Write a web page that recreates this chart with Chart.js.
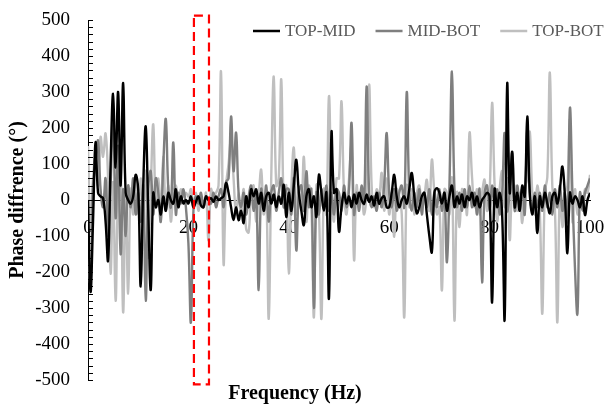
<!DOCTYPE html>
<html>
<head>
<meta charset="utf-8">
<script src="https://cdn.jsdelivr.net/npm/chart.js@4.4.1/dist/chart.umd.min.js"></script>
<style>
  html, body { margin: 0; padding: 0; background: #fff; }
  canvas { display: block; }
</style>
</head>
<body>
<canvas id="phaseChart" width="608" height="408"></canvas>
<script>
// sampling grid of the spectrum (Hz), 0 to 100 in 0.5 Hz steps
const FREQ_STEP = 0.5;
const freqHz = Array.from({ length: 201 }, (_, i) => i * FREQ_STEP);

const seriesNames = ['TOP-MID', 'MID-BOT', 'TOP-BOT'];

// phase differences in degrees, one row per 10 Hz
const topMid = [
    0, -255, -60, 160, 20, 10, 5, -60, -168, 100, 295, 90, 300, 40, 325, 20, 0, -10, 10, 70,
    30, -240, 40, 204, -30, -250, 20, -20, 0, -40, 10, -30, 20, 0, -10, 30, -20, 10, -10, 0,
    -10, 10, -20, -5, 10, -15, -20, 10, 0, 5, -5, 10, 0, 5, 10, 47, 20, -20, -56, -20,
    -56, -30, -64, 10, -20, 30, 10, 30, -10, 20, -30, 10, 20, -10, 15, -20, 10, -10, 42, -47,
    20, -30, 40, 112, 20, -30, -70, 10, 30, -20, 10, -47, 70, 20, -30, 20, -273, 187, 20, 30,
    -88, -20, 20, -10, 10, -20, 15, -10, 20, 0, -10, 15, -5, 10, -15, 20, -10, 5, 10, -20,
    -20, 20, 70, 10, -20, 0, 10, -10, 30, 75, 10, -37, -20, 10, 20, -40, -100, -145, 20, 33,
    20, -10, 20, -30, 10, 40, -20, 10, -10, 15, -20, 10, 0, 20, -15, 10, -20, 0, 10, 20,
    10, -285, 30, -20, 20, -40, -330, 321, 20, 134, -20, 20, -30, 40, 10, 232, 20, -40, 10, -92,
    10, -20, 20, -10, -37, 10, 20, -10, 30, 93, 10, -148, 20, -10, 10, 0, -20, 10, -42, 0,
    20
];

const midBot = [
    -150, -230, 40, 100, 165, 30, -20, 60, -100, 40, 250, -50, 150, -150, 30, -100, 40, -20, 60, -40,
    20, -60, 40, -280, 30, 80, -40, 60, 20, -60, 100, 225, 30, -20, 160, -40, 20, -10, 30, -20,
    -120, -340, -30, 10, -10, 20, -20, 10, 0, -10, 20, -20, 10, 30, -20, 50, 60, 232, 80, 187,
    20, -20, 20, -40, 10, 40, -30, 20, -250, 30, -20, 40, -60, 20, 40, -30, 20, 60, -20, 30,
    30, -40, 60, -140, 20, 40, -30, 80, -20, 30, -300, 20, -40, 30, -20, 40, -30, 20, -40, 30,
    20, -30, 40, -20, 30, 214, -40, 20, -30, 40, -10, 315, 20, -20, 10, -30, 20, -20, 40, 186,
    20, -20, 30, -30, 20, 40, -20, 300, 20, -30, 20, -20, 30, -40, 20, -20, 30, -40, 20, -20,
    30, -30, 20, -173, 40, 357, 30, -20, 20, -30, 30, -20, 40, -20, 20, -40, 30, -229, 20, 40,
    -30, 40, -20, 30, -40, 20, 186, -30, 20, 130, -30, 40, -20, 30, -40, 195, 20, -30, 20, -20,
    20, -30, 40, -20, 20, -40, 30, -20, 40, -30, 20, -60, 256, 20, -187, -316, 20, -30, 20, 40,
    60
];

const topBot = [
    150, -80, 60, 120, 40, 175, 120, 185, 60, -205, 50, -280, 30, 80, -312, 20, -260, 30, -40, 60,
    -40, 60, -30, 80, -160, 30, 210, -20, 60, -40, 120, -30, 40, -60, 20, 40, -10, 30, 10, 20,
    10, 30, -20, 20, -30, 10, -20, 20, -112, 30, 10, 20, 40, 355, -176, 40, 100, 170, 60, -40,
    20, -40, 30, -80, -90, 20, 40, -60, 10, 84, -40, 20, -330, 60, 343, 40, 60, 335, -20, 40,
    -204, 30, 145, -40, 30, -20, 120, -60, 40, -20, -326, 40, -30, -330, 30, -40, 288, 40, -60, 60,
    60, 274, 20, -40, 60, 150, -167, 40, -20, 10, -40, 30, 321, 40, -20, 30, 10, 75, -30, 60,
    -40, 20, -102, 30, 10, -40, -326, 40, -20, 30, -40, 20, 40, -20, 10, 56, -30, 112, 20, -40,
    -20, -251, 30, 20, -40, 60, -335, 20, -75, 30, 20, -40, 187, 64, -20, 30, -40, 20, 56, -30,
    20, 270, 40, -60, 30, 80, -20, 60, -112, 30, 40, -30, 20, -64, 30, 60, 190, 20, -40, 40,
    -30, -316, 20, 64, 354, 36, -20, -340, 30, -75, 20, 40, 223, -60, 30, -40, 20, -20, 30, 20,
    70
];

const FONT = "'Liberation Serif', 'Times New Roman', serif";
const seriesColors = ['#000000', '#7f7f7f', '#bfbfbf'];

// Y-Achse: kleine Striche nach innen, alle 20 Grad
const innerTicksPlugin = {
    id: 'innerTicks',
    afterDraw(chart) {
        const { ctx, chartArea, scales } = chart;
        const y = scales.y;
        ctx.save();
        ctx.strokeStyle = '#000';
        ctx.lineWidth = 1;
        for (let v = y.min; v <= y.max; v += 20) {
            const py = Math.round(y.getPixelForValue(v)) + 0.5;
            ctx.beginPath();
            ctx.moveTo(chartArea.left, py);
            ctx.lineTo(chartArea.left + 5, py);
            ctx.stroke();
        }
        ctx.restore();
    }
};

// highlighted band (red dashed box)
const HIGHLIGHT = { x0: 21.1, x1: 24.1, y0: -512, y1: 512 };
const highlightPlugin = {
    id: 'highlightBox',
    afterDraw(chart) {
        const { ctx, scales } = chart;
        const left = scales.x.getPixelForValue(HIGHLIGHT.x0);
        const right = scales.x.getPixelForValue(HIGHLIGHT.x1);
        const top = scales.y.getPixelForValue(HIGHLIGHT.y1);
        const bottom = scales.y.getPixelForValue(HIGHLIGHT.y0);
        ctx.save();
        ctx.strokeStyle = '#ff0000';
        ctx.lineWidth = 2.2;
        ctx.setLineDash([9, 5]);
        ctx.strokeRect(left, top, right - left, bottom - top);
        ctx.restore();
    }
};

// legend drawn inside the plot area, top right
const innerLegendPlugin = {
    id: 'innerLegend',
    afterDraw(chart) {
        const { ctx } = chart;
        const lineLen = 27;
        const textGap = 5;
        const itemGap = 20;
        const yMid = 31;
        let x = 253;
        ctx.save();
        ctx.font = '17px ' + FONT;
        ctx.textBaseline = 'middle';
        ctx.textAlign = 'left';
        chart.data.datasets.forEach(ds => {
            ctx.strokeStyle = ds.borderColor;
            ctx.lineWidth = 2.5;
            ctx.beginPath();
            ctx.moveTo(x, yMid);
            ctx.lineTo(x + lineLen, yMid);
            ctx.stroke();
            x += lineLen + textGap;
            ctx.fillStyle = '#595959';
            ctx.fillText(ds.label, x, yMid + 1);
            x += ctx.measureText(ds.label).width + itemGap;
        });
        ctx.restore();
    }
};

function toPoints(values) {
    return values.map((v, i) => ({ x: freqHz[i], y: v }));
}

const datasets = [topMid, midBot, topBot].map((values, i) => ({
    label: seriesNames[i],
    data: toPoints(values),
    borderColor: seriesColors[i],
    backgroundColor: seriesColors[i],
    borderWidth: 2.4,
    pointRadius: 0,
    tension: 0.4,
    fill: false
}));

new Chart(document.getElementById('phaseChart'), {
    type: 'line',
    data: { datasets },
    options: {
        responsive: false,
        animation: false,
        devicePixelRatio: 1,
        layout: { padding: { left: 0, right: 18, top: 20, bottom: 0 } },
        plugins: {
            legend: { display: false },
            tooltip: { enabled: false },
            title: {
                display: true,
                position: 'bottom',
                text: 'Frequency (Hz)',
                color: '#000',
                font: { family: FONT, size: 20, weight: 'bold', lineHeight: 1.2 },
                padding: { top: 2, bottom: 2 }
            }
        },
        scales: {
            x: {
                type: 'linear',
                position: { y: 0 },
                min: 0,
                max: 100,
                grid: { display: false, drawTicks: true, tickLength: 14 },
                border: { display: true, color: '#000', width: 1, dash: [4, 3] },
                ticks: {
                    stepSize: 20,
                    padding: 3,
                    color: '#000',
                    maxRotation: 0,
                    font: { family: FONT, size: 19 }
                }
            },
            y: {
                type: 'linear',
                position: 'left',
                min: -500,
                max: 500,
                afterFit(scale) { scale.width = 88; },
                grid: { display: false, drawTicks: true, tickLength: 15 },
                border: { display: true, color: '#000', width: 1 },
                ticks: {
                    stepSize: 100,
                    padding: 3,
                    color: '#000',
                    font: { family: FONT, size: 19 }
                },
                title: {
                    display: true,
                    text: 'Phase diffrence (°)',
                    color: '#000',
                    font: { family: FONT, size: 20, weight: 'bold', lineHeight: 1.2 },
                    padding: { top: 6, bottom: 0 }
                }
            }
        }
    },
    plugins: [innerTicksPlugin, highlightPlugin, innerLegendPlugin]
});
</script>
</body>
</html>
